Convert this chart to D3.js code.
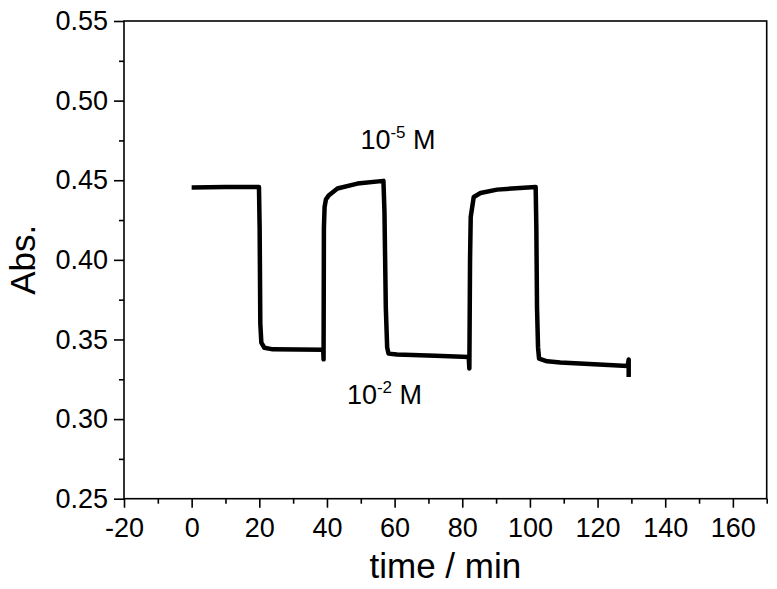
<!DOCTYPE html>
<html>
<head>
<meta charset="utf-8">
<script src="https://cdn.jsdelivr.net/npm/d3@7"></script>
<style>
  body { margin: 0; background: #fff; }
  svg text { font-family: "Liberation Sans", Arial, sans-serif; fill: #000; }
</style>
</head>
<body>
<div id="chart"></div>
<script>
(function() {
  // time (min) and absorbance
  var time = [0, 10, 19.9, 20.1, 20.3, 20.6, 21.5, 24, 38.9, 39.0, 39.1, 39.3, 39.7, 40.6, 43.1, 49, 56.7,
    57.0, 57.4, 57.8, 58.2, 60.7, 72, 81.9, 82.1, 82.3, 82.5, 83.4, 85.4, 90.3, 101.7,
    101.9, 102.1, 102.4, 102.7, 105.1, 109, 128.9, 129.2, 129.2];
  var absorbance = [0.4455, 0.4457, 0.4458, 0.42, 0.36, 0.348, 0.3448, 0.3438, 0.3435, 0.3375, 0.42, 0.4332, 0.438, 0.4406, 0.4448, 0.4479, 0.4496,
    0.43, 0.37, 0.345, 0.3411, 0.3405, 0.3398, 0.339, 0.3317, 0.40, 0.427, 0.4395, 0.442, 0.4441, 0.4458,
    0.42, 0.37, 0.345, 0.338, 0.3363, 0.3355, 0.3334, 0.3374, 0.3265];

  var xMajor = [-20, 0, 20, 40, 60, 80, 100, 120, 140, 160];
  var xMinor = [-10, 10, 30, 50, 70, 90, 110, 130, 150, 170];
  var yMajor = [0.25, 0.30, 0.35, 0.40, 0.45, 0.50, 0.55];
  var yMinor = [0.275, 0.325, 0.375, 0.425, 0.475, 0.525];

  var labels = [
    { text: "10", sup: "-5", tail: " M", t: 61, v: 0.4699 },
    { text: "10", sup: "-2", tail: " M", t: 57, v: 0.3097 }
  ];

  var width = 777, height = 589;
  var left = 124, top = 21, right = 766.7, bottom = 498.7;

  var svg = d3.select("#chart").append("svg")
    .attr("width", width)
    .attr("height", height);

  var x = d3.scaleLinear().domain([-20, 170]).range([left, right]);
  var y = d3.scaleLinear().domain([0.25, 0.55]).range([bottom, top]);

  // frame
  svg.append("rect")
    .attr("x", left).attr("y", top)
    .attr("width", right - left).attr("height", bottom - top)
    .attr("fill", "none").attr("stroke", "#000").attr("stroke-width", 1.6);

  function styleAxis(g) {
    g.select(".domain").remove();
    g.selectAll("line").attr("stroke", "#000").attr("stroke-width", 1.6);
    g.selectAll("text").attr("font-size", "27px").attr("fill", "#000")
      .attr("font-family", "'Liberation Sans', Arial, sans-serif");
  }

  svg.append("g")
    .attr("transform", "translate(0," + bottom + ")")
    .call(d3.axisBottom(x).tickValues(xMajor).tickSize(9).tickPadding(10).tickFormat(function(d) { return String(d); }))
    .call(styleAxis);
  svg.append("g")
    .attr("transform", "translate(0," + bottom + ")")
    .call(d3.axisBottom(x).tickValues(xMinor).tickSize(5).tickFormat(""))
    .call(styleAxis);

  svg.append("g")
    .attr("transform", "translate(" + left + ",0)")
    .call(d3.axisLeft(y).tickValues(yMajor).tickSize(10).tickPadding(6).tickFormat(d3.format(".2f")))
    .call(styleAxis);
  svg.append("g")
    .attr("transform", "translate(" + left + ",0)")
    .call(d3.axisLeft(y).tickValues(yMinor).tickSize(5).tickFormat(""))
    .call(styleAxis);

  // axis titles
  svg.append("text")
    .attr("x", (left + right) / 2).attr("y", 578)
    .attr("text-anchor", "middle")
    .attr("font-size", "35px")
    .text("time / min");
  svg.append("text")
    .attr("transform", "translate(35," + (top + bottom) / 2 + ") rotate(-90)")
    .attr("text-anchor", "middle")
    .attr("font-size", "35px")
    .text("Abs.");

  // trace
  var line = d3.line()
    .x(function(d, i) { return x(time[i]); })
    .y(function(d, i) { return y(absorbance[i]); });
  svg.append("path")
    .datum(time)
    .attr("d", line)
    .attr("fill", "none")
    .attr("stroke", "#000")
    .attr("stroke-width", 4.5)
    .attr("stroke-linejoin", "round")
    .attr("stroke-linecap", "butt");

  // concentration labels
  labels.forEach(function(l) {
    var t = svg.append("text")
      .attr("x", x(l.t)).attr("y", y(l.v))
      .attr("text-anchor", "middle")
      .attr("font-size", "27px");
    t.append("tspan").text(l.text);
    t.append("tspan").attr("font-size", "17px").attr("dy", -11).text(l.sup);
    t.append("tspan").attr("dy", 11).text(l.tail);
  });
})();
</script>
</body>
</html>
